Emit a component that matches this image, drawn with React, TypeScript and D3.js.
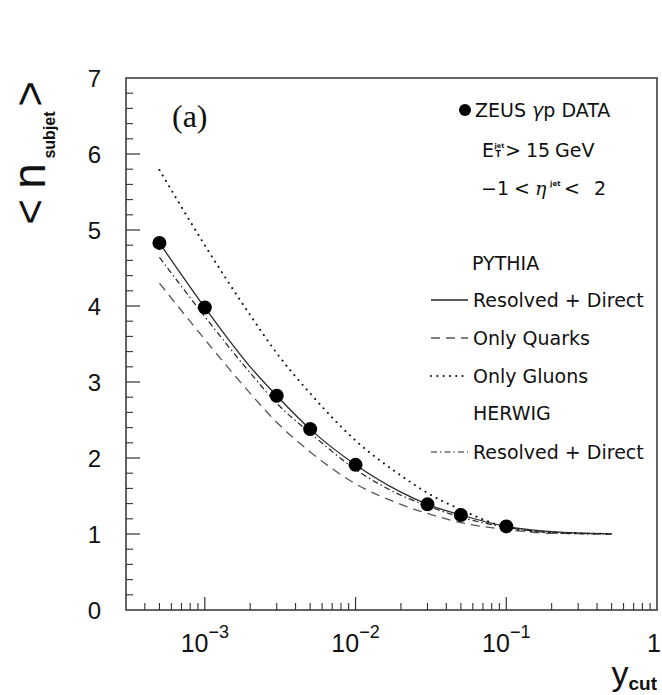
import React from 'react';
import * as d3 from 'd3';

const W = 662;
const H = 695;
const frame = { left: 126, right: 657, top: 78, bottom: 610 };

// y_cut sampling points of the model curves
const ycutGrid = [5e-4, 1e-3, 2e-3, 3e-3, 5e-3, 1e-2, 2e-2, 3e-2, 5e-2, 1e-1, 2e-1, 5e-1];
const pythiaResolvedDirect = [4.83, 3.98, 3.2, 2.82, 2.38, 1.91, 1.55, 1.39, 1.25, 1.1, 1.03, 1.0];
const pythiaOnlyQuarks = [4.3, 3.56, 2.85, 2.47, 2.08, 1.66, 1.39, 1.27, 1.15, 1.06, 1.01, 1.0];
const pythiaOnlyGluons = [5.79, 4.8, 3.88, 3.38, 2.85, 2.23, 1.77, 1.54, 1.32, 1.09, 1.02, 1.0];
const herwigResolvedDirect = [4.64, 3.86, 3.12, 2.72, 2.33, 1.85, 1.51, 1.37, 1.22, 1.09, 1.02, 1.0];

// ZEUS measurement
const dataYcut = [5e-4, 1e-3, 3e-3, 5e-3, 1e-2, 3e-2, 5e-2, 1e-1];
const dataNsubjet = [4.83, 3.98, 2.82, 2.38, 1.91, 1.39, 1.25, 1.1];

// axis ticks
const xDecades = [1e-3, 1e-2, 1e-1, 1];
const xDecadeExponents = ['−3', '−2', '−1', ''];
const yTickValues = [0, 1, 2, 3, 4, 5, 6, 7];

const sans = "'Liberation Sans', Arial, Helvetica, sans-serif";
const legendFont = "'DejaVu Sans', Verdana, sans-serif";

export default function App() {
  const x = d3.scaleLog().domain([3e-4, 1]).range([frame.left, frame.right]);
  const y = d3.scaleLinear().domain([0, 7]).range([frame.bottom, frame.top]);

  const line = d3
    .line<[number, number]>()
    .x((d) => x(d[0]))
    .y((d) => y(d[1]))
    .curve(d3.curveMonotoneX);

  const pts = (vals: number[]) => ycutGrid.map((g, i) => [g, vals[i]] as [number, number]);

  // minor x ticks: 2..9 times each decade inside the domain
  const xMinor: number[] = [];
  for (let e = -4; e < 0; e++) {
    for (let k = 2; k <= 9; k++) {
      const v = k * Math.pow(10, e);
      if (v > 3.01e-4 && v < 0.999) xMinor.push(v);
    }
  }
  const yMinor = d3.range(0, 7.001, 0.2).filter((v) => Math.abs(v - Math.round(v)) > 1e-6);

  const curves = [
    { vals: pythiaResolvedDirect, stroke: '#2a2a2a', width: 1.3, dash: undefined as string | undefined, cap: 'butt' },
    { vals: pythiaOnlyQuarks, stroke: '#555', width: 1.3, dash: '9,6', cap: 'butt' },
    { vals: pythiaOnlyGluons, stroke: '#111', width: 2, dash: '0.1,6.2', cap: 'round' },
    { vals: herwigResolvedDirect, stroke: '#222', width: 1.2, dash: '6,3,1.5,3', cap: 'butt' },
  ];

  const legendLines = [
    { yc: 300, label: 'Resolved + Direct', c: curves[0] },
    { yc: 338, label: 'Only Quarks', c: curves[1] },
    { yc: 376, label: 'Only Gluons', c: curves[2] },
    { yc: 452, label: 'Resolved + Direct', c: curves[3] },
  ];

  return (
    <svg
      width={W}
      height={H}
      viewBox={`0 0 ${W} ${H}`}
      style={{ position: 'absolute', left: 0, top: 0, background: '#fff' }}
    >
      <rect x={0} y={0} width={W} height={H} fill="#fff" />

      {/* model curves */}
      {curves.map((c, i) => (
        <path
          key={i}
          d={line(pts(c.vals)) || ''}
          fill="none"
          stroke={c.stroke}
          strokeWidth={c.width}
          strokeDasharray={c.dash}
          strokeLinecap={c.cap as any}
        />
      ))}

      {/* data points */}
      {dataYcut.map((v, i) => (
        <circle key={i} cx={x(v)} cy={y(dataNsubjet[i])} r={7} fill="#000" />
      ))}

      {/* frame */}
      <rect
        x={frame.left}
        y={frame.top}
        width={frame.right - frame.left}
        height={frame.bottom - frame.top}
        fill="none"
        stroke="#333"
        strokeWidth={1.5}
      />

      {/* x ticks */}
      {xDecades.filter((v) => v < 1).map((v) => (
        <line key={'xM' + v} x1={x(v)} x2={x(v)} y1={frame.bottom} y2={frame.bottom - 13} stroke="#333" strokeWidth={1.2} />
      ))}
      {xMinor.map((v) => (
        <line key={'xm' + v} x1={x(v)} x2={x(v)} y1={frame.bottom} y2={frame.bottom - 7} stroke="#333" strokeWidth={1.1} />
      ))}

      {/* y ticks */}
      {yTickValues.filter((v) => v > 0 && v < 7).map((v) => (
        <line key={'yM' + v} x1={frame.left} x2={frame.left + 14} y1={y(v)} y2={y(v)} stroke="#333" strokeWidth={1.2} />
      ))}
      {yMinor.map((v) => (
        <line key={'ym' + v} x1={frame.left} x2={frame.left + 7} y1={y(v)} y2={y(v)} stroke="#333" strokeWidth={1.1} />
      ))}

      {/* x tick labels */}
      {xDecades.map((v, i) =>
        xDecadeExponents[i] ? (
          <text key={'xl' + v} x={x(v)} y={652} textAnchor="middle" fontFamily={sans} fontSize={25} fill="#111">
            10
            <tspan dy={-14} fontSize={18}>
              {xDecadeExponents[i]}
            </tspan>
          </text>
        ) : (
          <text key={'xl' + v} x={x(v) + 4} y={652} textAnchor="end" fontFamily={sans} fontSize={25} fill="#111">
            1
          </text>
        )
      )}

      {/* y tick labels */}
      {yTickValues.map((v) => (
        <text key={'yl' + v} x={101} y={y(v) + 8.5} textAnchor="end" fontFamily={sans} fontSize={24} fill="#111">
          {v}
        </text>
      ))}

      {/* x axis title */}
      <text x={657} y={685} textAnchor="end" fontFamily={sans} fill="#111">
        <tspan fontSize={34}>y</tspan>
        <tspan fontSize={19} fontWeight="bold" dy={5}>
          cut
        </tspan>
      </text>

      {/* y axis title */}
      <g transform="translate(45,227) rotate(-90)" fontFamily={sans} fill="#111">
        <text x={15} y={0} textAnchor="middle" fontSize={44}>&lt;</text>
        <text x={51} y={0} textAnchor="middle" fontSize={46}>n</text>
        <text x={92} y={10} textAnchor="middle" fontSize={16} fontWeight="bold">subjet</text>
        <text x={133} y={0} textAnchor="middle" fontSize={44}>&gt;</text>
      </g>

      {/* panel label */}
      <text x={172} y={127} fontFamily="'Liberation Serif', 'Times New Roman', serif" fontSize={32} fill="#111">
        (a)
      </text>

      {/* legend */}
      <g fontFamily={legendFont} fontSize={19} fill="#111">
        <circle cx={465} cy={110} r={6} fill="#000" />
        <text x={475} y={117}>
          ZEUS <tspan fontStyle="italic">γ</tspan>p DATA
        </text>

        <text x={482} y={157}>E</text>
        <text x={494.5} y={147.5} fontSize={6.5} fontWeight="bold">jet</text>
        <text x={495.5} y={157} fontSize={8} fontWeight="bold">T</text>
        <text y={157}>
          <tspan x={505}>&gt;</tspan>
          <tspan x={526}>15</tspan>
          <tspan x={555}>GeV</tspan>
        </text>

        <text y={195}>
          <tspan x={481}>−1</tspan>
          <tspan x={514}>&lt;</tspan>
          <tspan x={535} fontStyle="italic" fontFamily="'DejaVu Serif', serif">η</tspan>
        </text>
        <text x={550} y={185.5} fontSize={7} fontWeight="bold">jet</text>
        <text y={195}>
          <tspan x={564}>&lt;</tspan>
          <tspan x={594}>2</tspan>
        </text>

        <text x={472} y={270}>PYTHIA</text>
        <text x={473} y={420}>HERWIG</text>

        {legendLines.map((l, i) => (
          <g key={i}>
            <line
              x1={431}
              x2={468}
              y1={l.yc}
              y2={l.yc}
              stroke={l.c.stroke}
              strokeWidth={l.c.width}
              strokeDasharray={l.c.dash}
              strokeLinecap={l.c.cap as any}
            />
            <text x={473} y={l.yc + 7}>
              {l.label}
            </text>
          </g>
        ))}
      </g>
    </svg>
  );
}
